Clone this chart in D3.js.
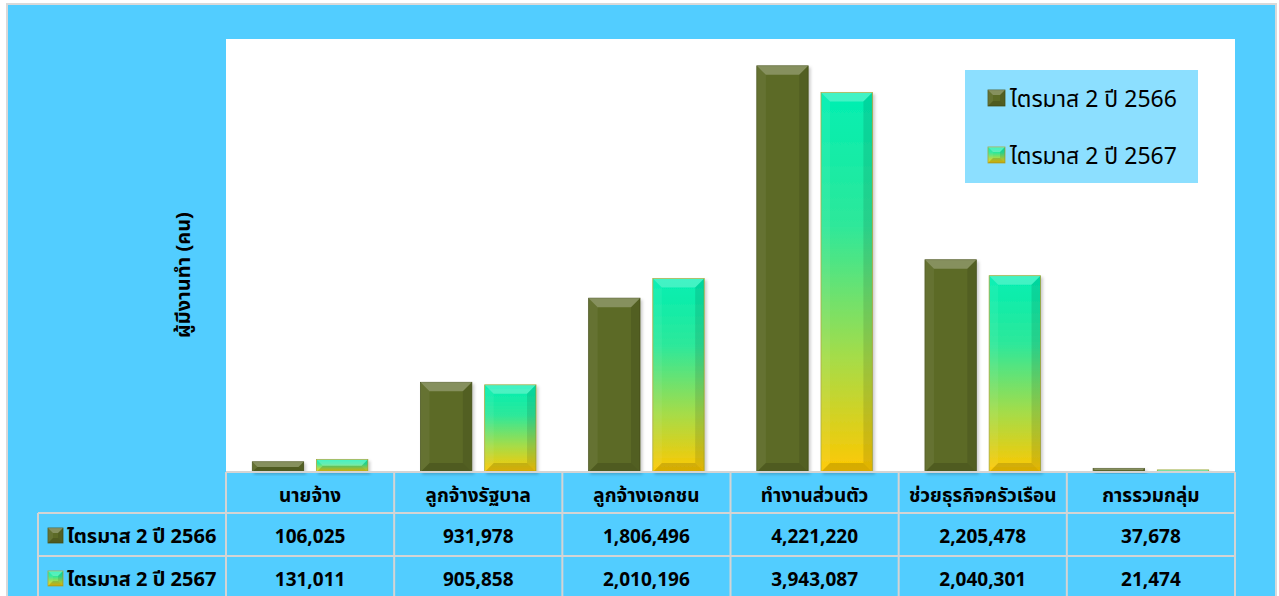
<!DOCTYPE html>
<html>
<head>
<meta charset="utf-8">
<script src="https://cdn.jsdelivr.net/npm/d3@7"></script>
<style>
  body { margin: 0; background: #fff; }
  text { font-family: Tahoma, "Noto Sans Thai", "Noto Sans", sans-serif; }
</style>
</head>
<body>
<div id="chart"></div>
<script>
// data
const categories = ["นายจ้าง", "ลูกจ้างรัฐบาล", "ลูกจ้างเอกชน", "ทำงานส่วนตัว", "ช่วยธุรกิจครัวเรือน", "การรวมกลุ่ม"];
const seriesNames = ["ไตรมาส 2 ปี 2566", "ไตรมาส 2 ปี 2567"];
const values2566 = [106025, 931978, 1806496, 4221220, 2205478, 37678];
const values2567 = [131011, 905858, 2010196, 3943087, 2040301, 21474];
const yMax = 4500000;
const yTitle = "ผู้มีงานทำ (คน)";

const W = 1279, H = 596;
const plot = {left: 226, right: 1235, top: 39, bottom: 472};
const rowH = [41, 43, 43];
const labelLeft = 38;

const svg = d3.select("#chart").append("svg")
    .attr("width", W)
    .attr("height", H);

const defs = svg.append("defs");
const grad = defs.append("linearGradient")
    .attr("id", "g2567")
    .attr("x1", 0).attr("y1", 0).attr("x2", 0).attr("y2", 1);
grad.append("stop").attr("offset", "0%").attr("stop-color", "#00efb2");
grad.append("stop").attr("offset", "35%").attr("stop-color", "#2ee89a");
grad.append("stop").attr("offset", "70%").attr("stop-color", "#a6dc48");
grad.append("stop").attr("offset", "100%").attr("stop-color", "#ffc800");

const shadow = defs.append("filter").attr("id", "shadow")
    .attr("x", "-20%").attr("y", "-20%").attr("width", "150%").attr("height", "150%");
shadow.append("feDropShadow")
    .attr("dx", 2).attr("dy", 2).attr("stdDeviation", 1.5)
    .attr("flood-color", "#000").attr("flood-opacity", 0.2);

// outer frame
svg.append("rect")
    .attr("x", 7).attr("y", 4).attr("width", 1269).attr("height", 600)
    .attr("fill", "#52cdff")
    .attr("stroke", "#d9d9d9").attr("stroke-width", 2);

// plot area
svg.append("rect")
    .attr("x", plot.left).attr("y", plot.top)
    .attr("width", plot.right - plot.left).attr("height", plot.bottom - plot.top)
    .attr("fill", "#fff");

const x0 = d3.scaleBand().domain(categories).range([plot.left, plot.right]);
const x1 = d3.scaleBand().domain(seriesNames).range([0, x0.bandwidth()])
    .paddingInner(0.2).paddingOuter(0.41);
const y = d3.scaleLinear().domain([0, yMax]).range([plot.bottom, plot.top]);

const fills = ["#5c6a26", "url(#g2567)"];
const strokes = ["#4a551f", "#a8a838"];

function bevelBar(g, bx, by, bw, bh, fill, stroke, withShadow, maxB) {
  const b = Math.max(1, Math.min(maxB, bh / 2, bw / 2));
  const grp = g.append("g");
  grp.append("rect")
      .attr("x", bx).attr("y", by).attr("width", bw).attr("height", bh)
      .attr("fill", fill)
      .attr("stroke", stroke).attr("stroke-width", 0.8)
      .attr("filter", withShadow ? "url(#shadow)" : null);
  const facets = [
    {pts: [[bx, by], [bx + bw, by], [bx + bw - b, by + b], [bx + b, by + b]], c: "#fff", o: 0.26},
    {pts: [[bx, by], [bx + b, by + b], [bx + b, by + bh - b], [bx, by + bh]], c: "#fff", o: 0.06},
    {pts: [[bx + bw, by], [bx + bw - b, by + b], [bx + bw - b, by + bh - b], [bx + bw, by + bh]], c: "#000", o: 0.1},
    {pts: [[bx, by + bh], [bx + b, by + bh - b], [bx + bw - b, by + bh - b], [bx + bw, by + bh]], c: "#000", o: 0.14}
  ];
  grp.selectAll("polygon").data(facets).join("polygon")
      .attr("points", d => d.pts.map(p => p.join(",")).join(" "))
      .attr("fill", d => d.c)
      .attr("fill-opacity", d => d.o);
}

const allSeries = [values2566, values2567];
const barsG = svg.append("g");
allSeries.forEach((vals, si) => {
  categories.forEach((cat, ci) => {
    const bx = x0(cat) + x1(seriesNames[si]);
    const by = y(vals[ci]);
    bevelBar(barsG, bx, by, x1.bandwidth(), y(0) - by, fills[si], strokes[si], true, 9);
  });
});

// y axis title
svg.append("text")
    .attr("transform", "translate(190,275) rotate(-90)")
    .attr("text-anchor", "middle")
    .attr("font-size", 20)
    .attr("font-weight", "bold")
    .attr("fill", "#000")
    .text(yTitle);

// legend
const legend = svg.append("g").attr("transform", "translate(965,70)");
legend.append("rect").attr("width", 233).attr("height", 113).attr("fill", "#8cdfff");
seriesNames.forEach((name, i) => {
  const ly = 29 + i * 57;
  bevelBar(legend, 23, ly - 9, 17, 16, fills[i], strokes[i], false, 5);
  legend.append("text")
      .attr("x", 45).attr("y", ly + 8)
      .attr("font-size", 23)
      .attr("fill", "#000")
      .text(name);
});

// data table
const table = svg.append("g");
const rowTop = [plot.bottom, plot.bottom + rowH[0], plot.bottom + rowH[0] + rowH[1]];
const lineColor = "#d4d4d4";

// horizontal lines
table.append("line")
    .attr("x1", plot.left).attr("x2", plot.right)
    .attr("y1", rowTop[0]).attr("y2", rowTop[0]);
[rowTop[1], rowTop[2]].forEach(ry => {
  table.append("line")
      .attr("x1", labelLeft).attr("x2", plot.right)
      .attr("y1", ry).attr("y2", ry);
});
// vertical lines
categories.concat(["end"]).forEach((cat, i) => {
  const vx = i < categories.length ? x0(cat) : plot.right;
  table.append("line")
      .attr("x1", vx).attr("x2", vx)
      .attr("y1", rowTop[0]).attr("y2", H);
});
table.append("line")
    .attr("x1", labelLeft).attr("x2", labelLeft)
    .attr("y1", rowTop[1]).attr("y2", H);
table.selectAll("line").attr("stroke", lineColor).attr("stroke-width", 2);

// header
table.selectAll("text.head").data(categories).join("text")
    .attr("class", "head")
    .attr("x", d => x0(d) + x0.bandwidth() / 2)
    .attr("y", rowTop[0] + 30)
    .attr("text-anchor", "middle")
    .attr("font-size", 19)
    .attr("font-weight", "bold")
    .text(d => d);

const fmt = d3.format(",");
allSeries.forEach((vals, si) => {
  const ty = rowTop[si + 1] + 30;
  bevelBar(table, 48, ty - 15, 15, 15, fills[si], strokes[si], false, 5);
  table.append("text")
      .attr("x", 67).attr("y", ty)
      .attr("font-size", 20)
      .attr("font-weight", "bold")
      .text(seriesNames[si]);
  table.selectAll(`text.v${si}`).data(vals).join("text")
      .attr("class", `v${si}`)
      .attr("x", (d, i) => x0(categories[i]) + x0.bandwidth() / 2)
      .attr("y", ty)
      .attr("text-anchor", "middle")
      .attr("font-size", 19)
      .attr("font-weight", "bold")
      .text(d => fmt(d));
});
</script>
</body>
</html>
